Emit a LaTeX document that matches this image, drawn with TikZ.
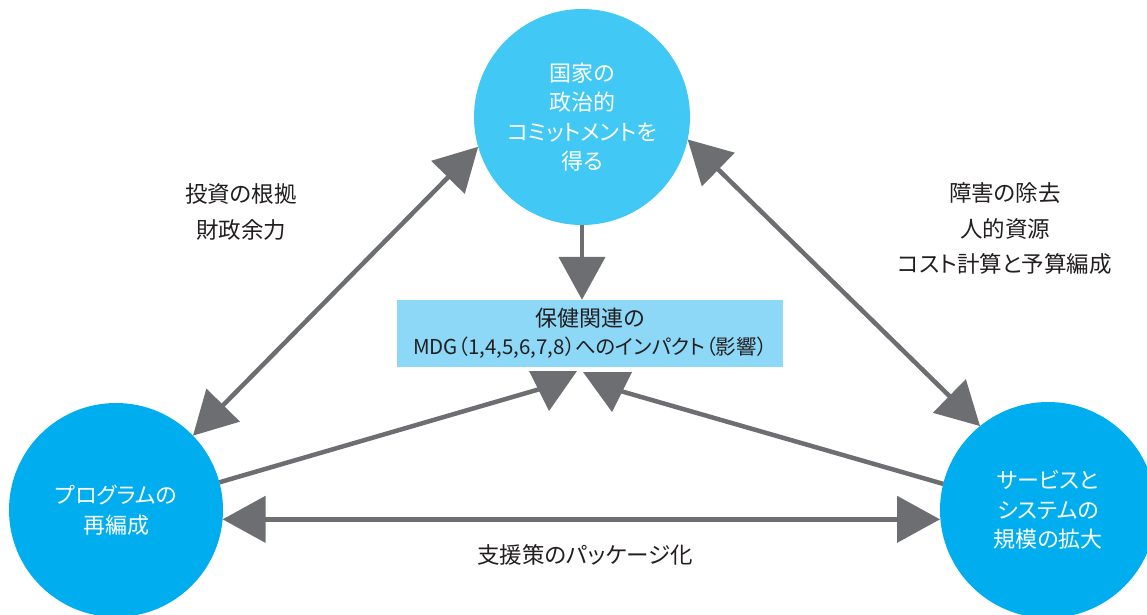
\documentclass[tikz,border=0pt]{standalone}
\usepackage{fontspec}
\setmainfont{Noto Sans CJK JP}[RawFeature=+palt]
\usetikzlibrary{arrows.meta}
\definecolor{topblue}{HTML}{42C8F4}
\definecolor{botblue}{HTML}{00AEEF}
\definecolor{boxblue}{HTML}{8DD7F7}
\definecolor{arrowgray}{HTML}{6D6E71}
\definecolor{txt}{HTML}{231F20}
\begin{document}
\begin{tikzpicture}[x=1pt,y=-1pt,
  hub/.style={circle,inner sep=0pt,outer sep=0pt,minimum size=216pt,text=white,align=center,font=\fontsize{22}{29.5}\selectfont},
  conn/.style={draw=arrowgray,line width=4.5pt},
  bighead/.style={-{Triangle[length=43pt,width=46pt]}},
  dblhead/.style={{Triangle[length=43pt,width=46pt]}-{Triangle[length=43pt,width=46pt]}},
  lab/.style={text=txt,align=center,font=\fontsize{22.5}{35.5}\selectfont}]
\fill[white] (0,0) rectangle (1147,614);
\useasboundingbox (0,0) rectangle (1147,614);

% hubs
\node[hub,fill=topblue] (tc) at (582,117) {国家の\\政治的\\コミットメントを\\得る};
\node[hub,fill=botblue,minimum size=214pt] (bl) at (116,510) {プログラムの\\再編成};
\node[hub,fill=botblue] (br) at (1048,510) {サービスと\\システムの\\規模の拡大};

% central box
\node[fill=boxblue,minimum width=386pt,minimum height=67pt,inner sep=0pt,align=center,text=txt,font=\fontsize{22}{28}\selectfont] (box) at (590,333.5)
  {保健関連の\\{\fontsize{20.5}{28}\selectfont MDG（1,4,5,6,7,8）へのインパクト（影響）}};

% labels
\node[lab] (lleft) at (241,212) {投資の根拠\\財政余力};
\node[lab] (lright) at (1005,229) {障害の除去\\人的資源\\コスト計算と予算編成};
\node[lab] (lbottom) at (585,555) {支援策のパッケージ化};

% connectors
\draw[conn,bighead] (tc.south) -- (tc.south |- box.north);
\draw[conn,dblhead] (tc.196.7) -- (bl.44.3);
\draw[conn,dblhead] (tc.348) -- (br.129.2);
\draw[conn,dblhead] (bl.-5.3) -- (bl.-5.3 -| br.west);

\coordinate (pL) at (540,389);
\coordinate (pR) at (617,390);
\draw[conn] (bl.15) -- (pL);
\draw[conn] (br.166) -- (pR);
\fill[arrowgray] (529,371) -- (577,371) -- (549,411) -- cycle;
\fill[arrowgray] (583,372) -- (632,372) -- (612,412) -- cycle;
\end{tikzpicture}
\end{document}
